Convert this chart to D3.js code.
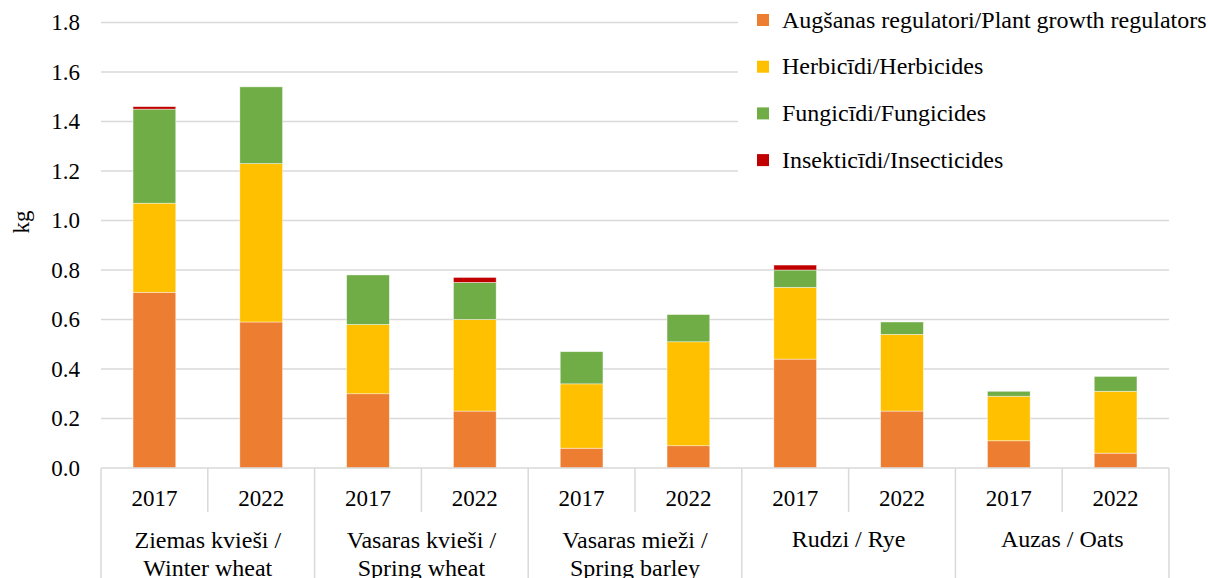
<!DOCTYPE html>
<html>
<head>
<meta charset="utf-8">
<script src="https://cdn.jsdelivr.net/npm/d3@7"></script>
<style>
  html, body { margin: 0; padding: 0; background: #fff; }
</style>
</head>
<body>
<div id="chart"></div>
<script>
// 1. DATA
const crops = [
  ["Ziemas kvieši /", "Winter wheat"],
  ["Vasaras kvieši /", "Spring wheat"],
  ["Vasaras mieži /", "Spring barley"],
  ["Rudzi / Rye"],
  ["Auzas / Oats"]
]
const years = ["2017", "2022"]
const seriesNames = [
  "Augšanas regulatori/Plant growth regulators",
  "Herbicīdi/Herbicides",
  "Fungicīdi/Fungicides",
  "Insekticīdi/Insecticides"
]
const seriesColors = ["#ED7D31", "#FFC000", "#70AD47", "#C00000"]

// one value per crop/year slot, in order crop1-2017, crop1-2022, ...
const growthRegulators = [0.71, 0.59, 0.30, 0.23, 0.08, 0.09, 0.44, 0.23, 0.11, 0.06]
const herbicides       = [0.36, 0.64, 0.28, 0.37, 0.26, 0.42, 0.29, 0.31, 0.18, 0.25]
const fungicides       = [0.38, 0.31, 0.20, 0.15, 0.13, 0.11, 0.07, 0.05, 0.02, 0.06]
const insecticides     = [0.01, 0.00, 0.00, 0.02, 0.00, 0.00, 0.02, 0.00, 0.00, 0.00]

const yTicks = [0, 0.2, 0.4, 0.6, 0.8, 1.0, 1.2, 1.4, 1.6, 1.8]

const FONT = "Liberation Serif"

const slots = []
crops.forEach((c, ci) => years.forEach((y, yi) => slots.push({ crop: ci, year: y, key: ci + "-" + y })))
const table = slots.map((s, i) => ({
  key: s.key,
  s0: growthRegulators[i],
  s1: herbicides[i],
  s2: fungicides[i],
  s3: insecticides[i]
}))

// 2. DIMENSIONS
const dimensions = {
  width: 1208,
  height: 578,
  margin: { top: 22.5, right: 39, bottom: 110, left: 101 }
}
dimensions.boundedWidth = dimensions.width - dimensions.margin.left - dimensions.margin.right
dimensions.boundedHeight = dimensions.height - dimensions.margin.top - dimensions.margin.bottom

// 3. CANVAS
const wrapper = d3.select("#chart").append("svg")
  .attr("width", dimensions.width)
  .attr("height", dimensions.height)
  .attr("font-family", FONT)
  .attr("font-size", 23)

const bounds = wrapper.append("g")
  .attr("transform", `translate(${dimensions.margin.left},${dimensions.margin.top})`)

// 4. SCALES
const xScale = d3.scaleBand()
  .domain(slots.map(d => d.key))
  .range([0, dimensions.boundedWidth])
  .paddingInner(0.6)
  .paddingOuter(0.3)
const groupScale = d3.scaleBand()
  .domain(d3.range(crops.length))
  .range([0, dimensions.boundedWidth])
const yScale = d3.scaleLinear()
  .domain([0, 1.8])
  .range([dimensions.boundedHeight, 0])

// gridlines
bounds.append("g")
  .selectAll("line")
  .data(yTicks.slice(1))
  .join("line")
    .attr("x1", 0)
    .attr("x2", dimensions.boundedWidth)
    .attr("y1", d => yScale(d))
    .attr("y2", d => yScale(d))
    .attr("stroke", "#d9d9d9")
    .attr("stroke-width", 1.3)

// 5. DATA
const stack = d3.stack().keys(["s0", "s1", "s2", "s3"])
const layers = stack(table)

bounds.append("g")
  .selectAll("g")
  .data(layers)
  .join("g")
    .attr("fill", (d, i) => seriesColors[i])
  .selectAll("rect")
  .data(d => d.filter(p => p[1] - p[0] > 0))
  .join("rect")
    .attr("x", d => xScale(d.data.key))
    .attr("width", xScale.bandwidth())
    .attr("y", d => yScale(d[1]))
    .attr("height", d => yScale(d[0]) - yScale(d[1]))
    .attr("stroke", "#fff")
    .attr("stroke-opacity", 0.6)
    .attr("stroke-width", 0.7)

// 6. PERIPHERALS
// y axis labels
const yAxis = bounds.append("g")
  .call(d3.axisLeft(yScale).tickValues(yTicks).tickFormat(d3.format(".1f")).tickSize(0).tickPadding(21))
  .attr("font-family", FONT)
  .attr("font-size", 23)
yAxis.select(".domain").remove()
yAxis.selectAll("text").attr("fill", "#000")

wrapper.append("text")
  .attr("transform", "translate(29,222) rotate(-90)")
  .attr("text-anchor", "middle")
  .attr("font-size", 23)
  .text("kg")

// category axis
const axisG = bounds.append("g")
  .attr("transform", `translate(0,${dimensions.boundedHeight})`)
axisG.append("line")
  .attr("x1", 0).attr("x2", dimensions.boundedWidth)
  .attr("stroke", "#d9d9d9").attr("stroke-width", 1.5)

// short dividers between years
axisG.selectAll(".ydiv")
  .data(d3.range(crops.length))
  .join("line")
    .attr("x1", d => groupScale(d) + groupScale.bandwidth() / 2)
    .attr("x2", d => groupScale(d) + groupScale.bandwidth() / 2)
    .attr("y1", 0).attr("y2", 44)
    .attr("stroke", "#d9d9d9").attr("stroke-width", 1.5)
// long dividers between crops
axisG.selectAll(".gdiv")
  .data(d3.range(crops.length + 1))
  .join("line")
    .attr("x1", d => d * groupScale.bandwidth())
    .attr("x2", d => d * groupScale.bandwidth())
    .attr("y1", 0).attr("y2", 120)
    .attr("stroke", "#d9d9d9").attr("stroke-width", 1.5)

axisG.selectAll(".yl")
  .data(slots)
  .join("text")
    .attr("x", d => xScale(d.key) + xScale.bandwidth() / 2)
    .attr("y", 38)
    .attr("text-anchor", "middle")
    .text(d => d.year)

axisG.selectAll(".gl")
  .data(crops)
  .join("text")
    .attr("x", (d, i) => groupScale(i) + groupScale.bandwidth() / 2)
    .attr("y", d => d.length > 1 ? 80 : 79)
    .attr("text-anchor", "middle")
    .attr("font-size", 24)
    .selectAll("tspan")
    .data(d => d)
    .join("tspan")
      .attr("x", function () { return this.parentNode.getAttribute("x") })
      .attr("dy", (d, i) => i === 0 ? 0 : 28)
      .text(d => d)

// legend (white box covers gridlines)
const legend = wrapper.append("g")
  .attr("transform", "translate(738,0)")
legend.append("rect")
  .attr("width", 470).attr("height", 185)
  .attr("fill", "#fff")
const items = legend.selectAll(".item")
  .data(seriesNames)
  .join("g")
    .attr("transform", (d, i) => `translate(0,${20 + i * 46.7})`)
items.append("rect")
  .attr("x", 19).attr("y", -6)
  .attr("width", 12).attr("height", 12)
  .attr("fill", (d, i) => seriesColors[i])
items.append("text")
  .attr("x", 44).attr("y", 7.5)
  .attr("font-size", 24)
  .text(d => d)
</script>
</body>
</html>
